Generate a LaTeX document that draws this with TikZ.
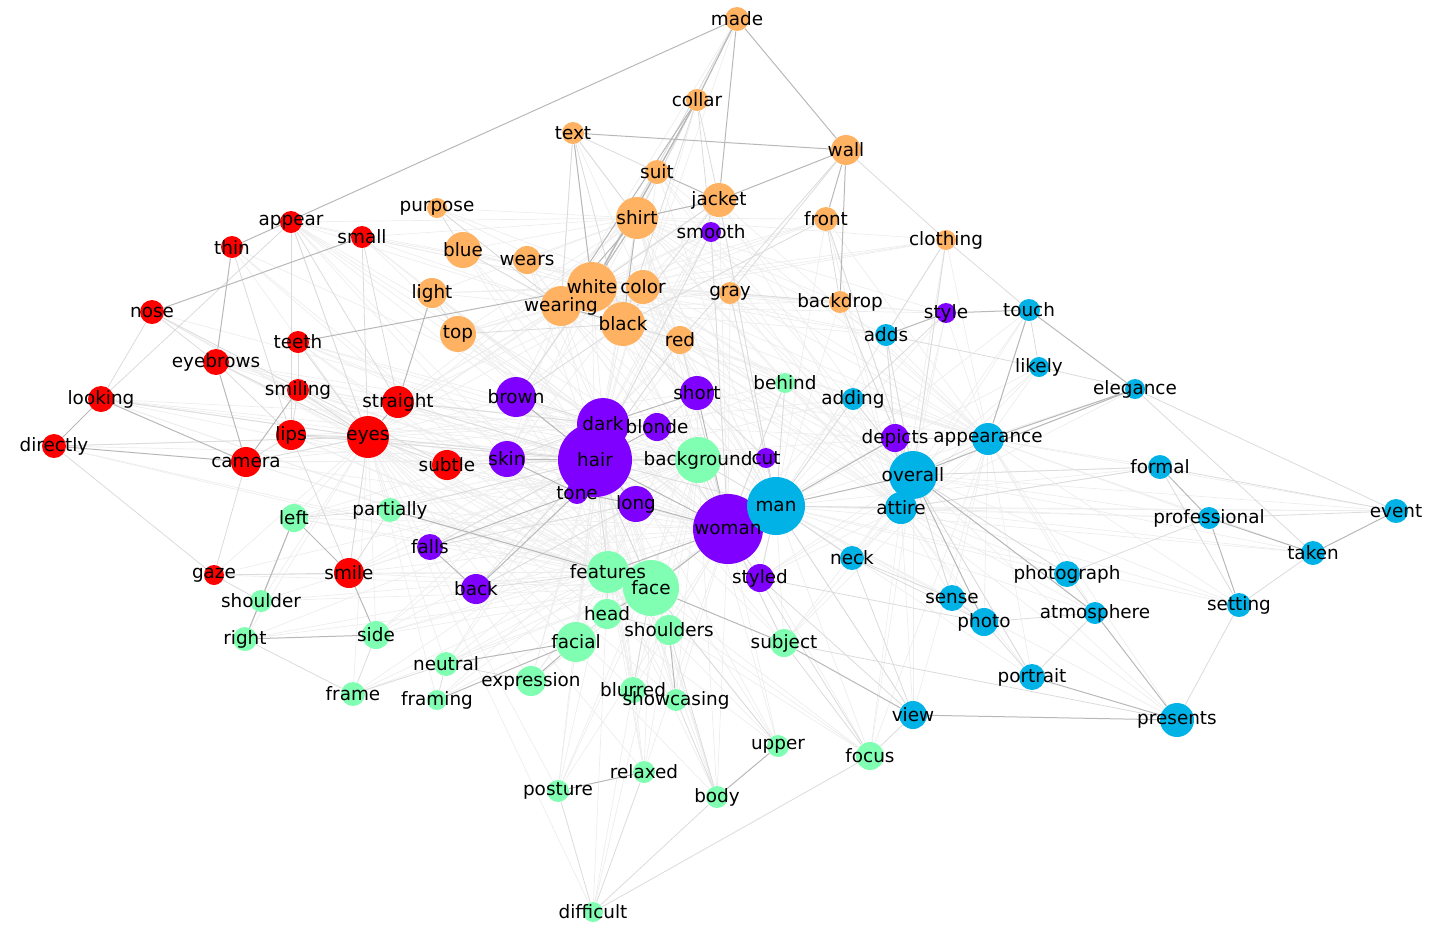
\documentclass[tikz,border=0pt]{standalone}
\usepackage{fontspec}
\setmainfont{DejaVu Sans}
\usetikzlibrary{backgrounds}
\usetikzlibrary{positioning}
\definecolor{mpurple}{RGB}{128,0,255}
\definecolor{mcyan}{RGB}{0,178,230}
\definecolor{mmint}{RGB}{128,255,178}
\definecolor{morange}{RGB}{255,178,98}
\definecolor{mred}{RGB}{255,0,0}
\tikzset{vtx/.style = {circle, draw=none, inner sep = 0}}
\tikzset{wlab/.style = {inner sep = 0, font=\fontsize{9.2}{11}\selectfont}}
\tikzset{e1/.style = {draw=black!28, line width=0.5pt}}
\tikzset{e2/.style = {draw=black!14, line width=0.4pt}}
\tikzset{e3/.style = {draw=black!7, line width=0.35pt}}

\begin{document}
\begin{tikzpicture}[x=0.5pt, y=-0.5pt]
      \useasboundingbox (0,0) rectangle (1435,939);

      % words
      \foreach \w/\x/\y/\r/\c in {
        made/737/19/12/morange, collar/697/100/11/morange, text/573/133/11/morange,
        wall/846/150/15/morange, suit/657/172/12/morange, jacket/719/200/17/morange,
        shirt/637/218/21/morange, purpose/437/208/10/morange, front/826/219/12/morange,
        clothing/946/240/10/morange, blue/463/250/18/morange, wears/527/260/14/morange,
        light/432/293/15/morange, white/592/287/25/morange, color/643/287/17/morange,
        wearing/561/306/20/morange, gray/730/293/11/morange, backdrop/840/302/11/morange,
        top/458/334/18/morange, black/623/324/22/morange, red/680/340/14/morange,
        smooth/711/232/10/mpurple, style/946/313/10/mpurple, brown/516/397/20/mpurple,
        short/697/393/17/mpurple, dark/603/424/26/mpurple, blonde/657/427/14/mpurple,
        hair/595/460/37/mpurple, skin/507/459/18/mpurple, tone/577/493/11/mpurple,
        long/636/504/18/mpurple, cut/766/458/10/mpurple, depicts/895/438/14/mpurple,
        woman/728/529/35/mpurple, styled/760/578/14/mpurple, falls/430/547/13/mpurple,
        back/476/589/15/mpurple,
        adds/886/335/11/mcyan, touch/1029/310/11/mcyan, likely/1039/367/10/mcyan,
        elegance/1135/389/10/mcyan, adding/853/399/11/mcyan, appearance/988/439/16/mcyan,
        overall/913/475/24/mcyan, man/776/506/29/mcyan, attire/901/508/16/mcyan,
        formal/1160/467/12/mcyan, professional/1209/518/11/mcyan, event/1396/511/12/mcyan,
        neck/852/558/12/mcyan, taken/1313/553/12/mcyan, photograph/1067/574/13/mcyan,
        sense/952/598/13/mcyan, photo/984/622/14/mcyan, atmosphere/1095/613/11/mcyan,
        setting/1239/605/12/mcyan, portrait/1032/677/13/mcyan, view/913/715/14/mcyan,
        presents/1177/720/17/mcyan,
        appear/291/222/11/mred, thin/232/247/11/mred, small/362/237/11/mred,
        nose/152/312/12/mred, teeth/298/342/11/mred, eyebrows/216/362/13/mred,
        looking/101/399/13/mred, smiling/298/390/11/mred, straight/398/402/16/mred,
        lips/291/435/15/mred, eyes/368/437/21/mred, directly/54/446/12/mred,
        camera/246/462/15/mred, subtle/447/465/15/mred, gaze/214/575/10/mred,
        smile/349/573/15/mred,
        behind/785/383/10/mmint, background/698/460/23/mmint, left/294/518/14/mmint,
        partially/390/510/12/mmint, features/608/572/21/mmint, face/651/588/28/mmint,
        shoulder/261/601/11/mmint, head/607/614/15/mmint, side/376/635/14/mmint,
        right/245/639/12/mmint, shoulders/669/630/15/mmint, facial/576/642/20/mmint,
        subject/784/643/14/mmint, neutral/446/664/12/mmint, expression/531/681/15/mmint,
        frame/353/694/12/mmint, framing/437/700/10/mmint, blurred/633/690/13/mmint,
        showcasing/676/700/11/mmint, upper/778/746/11/mmint, focus/870/756/14/mmint,
        relaxed/644/772/11/mmint, posture/558/791/11/mmint, body/717/797/11/mmint,
        difficult/593/912/10/mmint}
        \node [vtx, fill=\c, minimum size=\r pt] (\w) at (\x, \y) {};

      \begin{pgfonlayer}{background}
        % faint mesh
        \foreach \a in {hair, dark, woman}
          \foreach \b in {appear, small, teeth, eyebrows, looking, smiling, straight, lips, eyes,
                          camera, subtle, smile, left, partially, falls, back, features, face, head,
                          facial, shoulders, expression, neutral, side, blurred, showcasing, posture,
                          relaxed, body, upper, subject, styled, cut, behind, adding, depicts, light,
                          top, blue, wears, wearing, white, color, black, red, gray, smooth, jacket, shirt}
            \draw [e3] (\a) -- (\b);
        \foreach \a in {man, overall, attire, appearance}
          \foreach \b in {suit, jacket, shirt, white, black, color, gray, backdrop, front, clothing,
                          adds, touch, likely, elegance, formal, professional, event, taken, photograph,
                          sense, photo, atmosphere, setting, portrait, view, presents, neck, focus,
                          subject, styled, behind, adding, style, depicts, red, short}
            \draw [e3] (\a) -- (\b);
        \foreach \a in {face, features, background, eyes}
          \foreach \b in {appear, thin, nose, teeth, eyebrows, looking, smiling, lips, directly,
                          camera, gaze, smile, left, shoulder, right, side, partially, neutral, frame,
                          framing, expression, blurred, showcasing, posture, relaxed, body, upper,
                          difficult, skin, brown, short, long, tone, focus}
            \draw [e3] (\a) -- (\b);
        \foreach \a in {white, wearing, shirt, color}
          \foreach \b in {made, collar, text, suit, jacket, purpose, front, clothing, blue, wears,
                          light, gray, backdrop, top, black, red, smooth, brown, short, skin, straight,
                          small, appear, eyes, behind, adds, style, background, man}
            \draw [e3] (\a) -- (\b);

        % lighter links
        \foreach \a/\b in {made/shirt, made/white, text/shirt, text/suit, text/wearing, text/black,
            collar/jacket, collar/black, wall/clothing, wall/gray, wall/red, jacket/white, jacket/black,
            jacket/man, front/backdrop, front/black, front/overall, clothing/touch, clothing/overall,
            clothing/adds, backdrop/overall, backdrop/gray, gray/man, purpose/blue,
            purpose/wearing, blue/wearing, light/top, top/black, red/black,
            red/hair, red/woman, smooth/hair, smooth/woman, smooth/collar,
            appear/lips, appear/straight, appear/eyes, small/eyes, small/straight, teeth/smiling,
            teeth/eyes, eyebrows/eyes, eyebrows/lips, eyebrows/nose, nose/looking, smiling/lips,
            smiling/eyes, lips/eyes, lips/hair, eyes/hair, eyes/subtle, straight/hair, straight/dark,
            subtle/hair, camera/eyes, camera/gaze, directly/eyes, directly/gaze, looking/eyes,
            gaze/smile, gaze/shoulder, left/shoulder, right/shoulder, smile/partially, smile/lips,
            smile/eyes, left/partially, side/frame, frame/neutral, frame/right, framing/neutral,
            neutral/expression, facial/head, head/features, head/shoulders,
            difficult/relaxed, difficult/body, difficult/focus, upper/face,
            focus/subject, focus/view, focus/woman, view/styled, view/neck, view/man, subject/woman,
            subject/presents, styled/man, styled/photo, neck/man, neck/photo, neck/sense,
            sense/photo, sense/overall, photo/portrait, photo/atmosphere, portrait/overall,
            portrait/atmosphere, photograph/overall, photograph/professional, photograph/atmosphere,
            setting/presents, setting/taken, setting/formal, formal/event, formal/attire,
            formal/overall, professional/event, taken/elegance, event/elegance, likely/elegance,
            likely/touch, likely/adds, adds/overall, adds/depicts, adding/overall, adding/man,
            adding/style, depicts/appearance, depicts/overall, depicts/attire, attire/man,
            attire/overall, appearance/overall, man/background, man/hair, background/hair,
            background/woman, cut/hair, cut/short, short/blonde, short/black,
            behind/woman, behind/man, brown/dark, brown/white, brown/black, skin/dark,
            tone/dark, falls/hair, falls/long, back/hair, back/long, back/features, partially/hair,
            features/hair, face/hair, woman/blonde, difficult/posture, showcasing/body,
            shoulders/body, blurred/face, looking/appear, nose/subtle, thin/lips, lips/camera}
          \draw [e2] (\a) -- (\b);

        % strong links
        \foreach \a/\b in {made/thin, made/collar, made/jacket, made/wall, text/wall, text/white,
            collar/white, collar/wearing, collar/suit, suit/jacket, suit/white, jacket/wall,
            jacket/shirt, shirt/white, shirt/wearing, wall/front, wall/backdrop, nose/small,
            teeth/white, thin/eyebrows, looking/directly, directly/camera,
            looking/camera, eyebrows/camera, smiling/camera, straight/light,
            eyes/straight, falls/tone, back/tone, falls/back, left/right, left/smile, smile/side,
            right/side, facial/neutral, facial/framing, facial/expression, head/face, features/face,
            subject/view, view/presents, portrait/presents, atmosphere/presents, overall/atmosphere,
            overall/photo, touch/elegance, touch/appearance, appearance/elegance, overall/elegance,
            style/adds, style/touch, formal/professional, professional/taken, professional/setting,
            event/taken, upper/body, relaxed/posture, man/woman, man/overall, man/depicts,
            woman/long, woman/hair, woman/short, hair/dark, hair/brown, hair/skin, hair/tone,
            hair/blonde, hair/long, dark/blonde, dark/short, skin/tone, long/tone,
            shoulders/showcasing, face/subject, woman/face, woman/features, partially/features,
            shirt/black, white/black, wearing/black}
          \draw [e1] (\a) -- (\b);
      \end{pgfonlayer}

      % labels
      \foreach \w in {made, collar, text, wall, suit, jacket, shirt, purpose, front, clothing, blue,
          wears, light, white, color, wearing, gray, backdrop, top, black, red, smooth, style, brown,
          short, dark, blonde, hair, skin, tone, long, cut, depicts, woman, styled, falls, back,
          adds, touch, likely, elegance, adding, appearance, overall, man, attire, formal,
          professional, event, neck, taken, photograph, sense, photo, atmosphere, setting, portrait,
          view, presents, appear, thin, small, nose, teeth, eyebrows, looking, smiling, straight,
          lips, eyes, directly, camera, subtle, gaze, smile, behind, background, left, partially,
          features, face, shoulder, head, side, right, shoulders, facial, subject, neutral,
          expression, frame, framing, blurred, showcasing, upper, focus, relaxed, posture, body,
          difficult}
        \node [wlab] (\w-t) at (\w) {\w};
\end{tikzpicture}
\end{document}
